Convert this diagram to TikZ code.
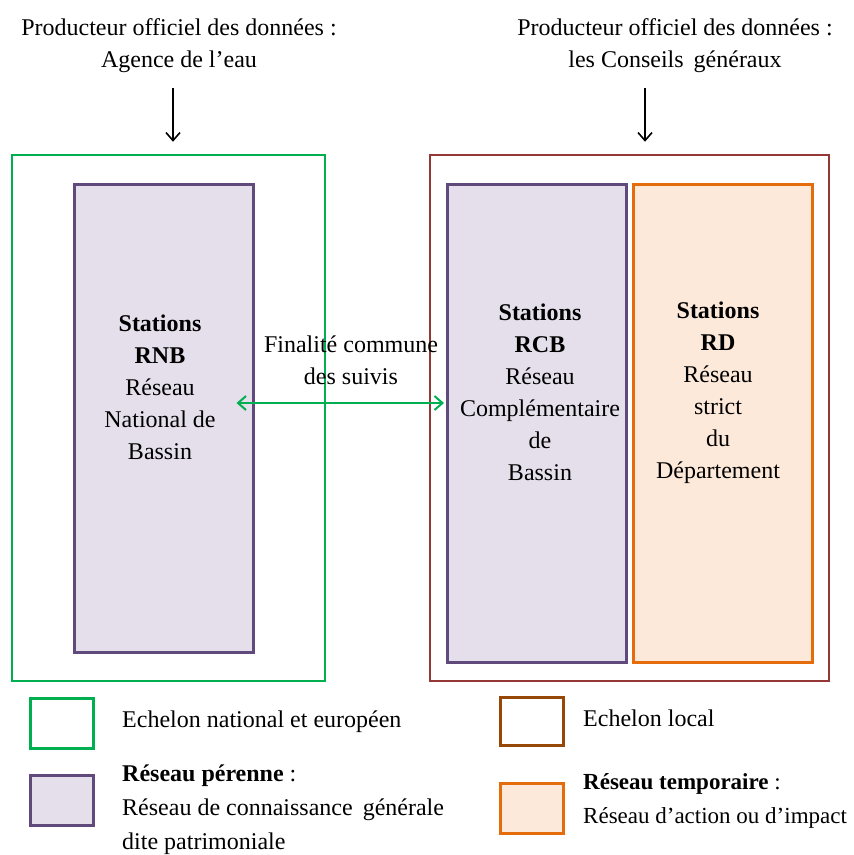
\documentclass[tikz,border=0pt]{standalone}
\usepackage{fontspec}
\setmainfont{Liberation Serif}
\usetikzlibrary{positioning,arrows.meta}
\definecolor{vert}{RGB}{0,176,80}
\definecolor{bordeaux}{RGB}{149,55,53}
\definecolor{brun}{RGB}{152,72,6}
\definecolor{violet}{RGB}{96,74,123}
\definecolor{lilas}{RGB}{229,223,236}
\definecolor{orangeb}{RGB}{228,108,10}
\definecolor{peche}{RGB}{253,233,217}
\tikzset{
  txt/.style={font=\fontsize{24}{32}\selectfont, align=center, inner sep=0pt},
  leg/.style={font=\fontsize{24}{34}\selectfont, align=left, inner sep=0pt, anchor=west},
  cadre/.style={draw=#1, line width=2.5pt, inner sep=0pt},
  reseau/.style={line width=3pt, inner sep=0pt, minimum width=179pt},
  pointe/.style={-{Straight Barb[length=8pt, width=14pt]}, line width=1.6pt},
  double pointe/.style={{Straight Barb[length=8pt, width=14pt]}-{Straight Barb[length=8pt, width=14pt]}, line width=2pt}
}
\begin{document}
\begin{tikzpicture}[x=1pt, y=-1pt]
  \useasboundingbox (0,0) rectangle (854,855);
  % producteurs
  \node[txt] (prodA) at (179,46) {Producteur officiel des données :\\Agence de l’eau};
  \node[txt] (prodB) at (675,46) {Producteur officiel des données :\\les Conseils\, généraux};
  % echelons
  \node[cadre=vert, minimum width=313pt, minimum height=526pt] (national) at (168.5,418) {};
  \node[cadre=bordeaux, minimum width=399pt, minimum height=526pt] (local) at (629.5,418) {};
  \coordinate (flecheA) at (173,88);
  \coordinate (flecheB) at (645,88);
  \draw[pointe] (flecheA) -- ([yshift=12pt]flecheA |- national.north);
  \draw[pointe] (flecheB) -- ([yshift=12pt]flecheB |- local.north);
  % reseaux
  \node[reseau, draw=violet, fill=lilas, minimum height=468pt] (rnb) at (163.5,418) {};
  \node[reseau, draw=violet, fill=lilas, minimum height=478pt] (rcb) at (537,423) {};
  \node[reseau, draw=orangeb, fill=peche, minimum height=478pt] (rd) at (723,423) {};
  \node[txt] (rnbtxt) at (160,387) {\textbf{Stations}\\\textbf{RNB}\\Réseau\\National de\\Bassin};
  \node[txt] (rcbtxt) at (540,392) {\textbf{Stations}\\\textbf{RCB}\\Réseau\\Complémentaire\\de\\Bassin};
  \node[txt] (rdtxt) at (718,393) {\textbf{Stations}\\\textbf{RD}\\Réseau\\strict\\du\\Département};
  % finalite commune
  \node[txt] (finalite) at (351,360) {Finalité commune\\des suivis};
  \draw[double pointe, vert] ([xshift=-18pt]rnb.east |- 0,403) -- ([xshift=-2pt]rcb.west |- 0,403);
  % legende
  \node[cadre=vert, line width=3pt, minimum width=63pt, minimum height=50pt] (legnat) at (61.5,723) {};
  \node[cadre=brun, line width=3pt, minimum width=63pt, minimum height=48pt] (legloc) at (531.5,721) {};
  \node[cadre=violet, line width=3pt, fill=lilas, minimum width=63pt, minimum height=50pt] (legper) at (61.5,800) {};
  \node[cadre=orangeb, line width=3pt, fill=peche, minimum width=63pt, minimum height=50pt] (legtmp) at (531.5,808) {};
  \node[leg] (txtnat) at (122,722) {Echelon national et européen};
  \node[leg] (txtloc) at (583,718) {Echelon local};
  \node[leg] (txtper) at (122,810) {\textbf{Réseau pérenne} :\\Réseau de connaissance\, générale\\dite patrimoniale};
  \node[leg, font=\fontsize{23}{34}\selectfont] (txttmp) at (583,801) {\textbf{Réseau temporaire} :\\Réseau d’action ou d’impact};
\end{tikzpicture}
\end{document}
